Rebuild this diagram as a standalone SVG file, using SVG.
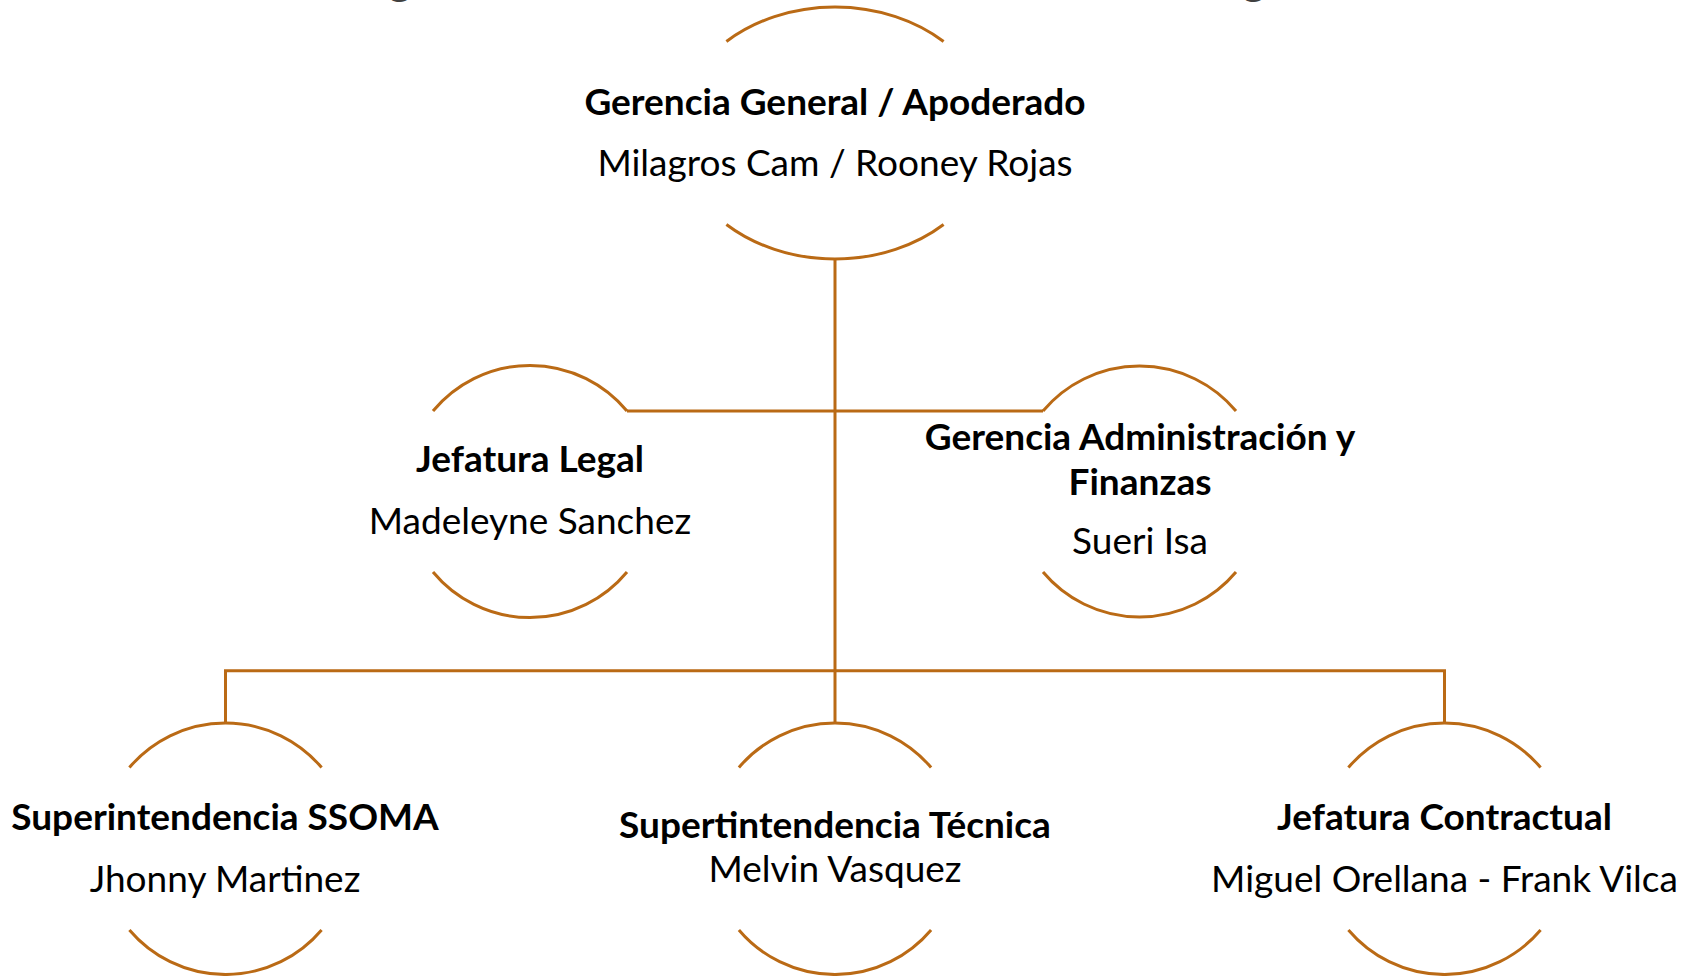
<svg xmlns="http://www.w3.org/2000/svg" width="1694" height="976" viewBox="0 0 1694 976">
<style>
.arc{fill:none;stroke:#BA6A15;stroke-width:3}
.con{fill:none;stroke:#BA6A15;stroke-width:3}
text{font-family:Lato,"Open Sans","Liberation Sans",sans-serif;fill:#000;text-anchor:middle;font-size:37px}
.b{font-weight:bold}
.t{fill:#404040;font-size:46px}
</style>
<rect width="1694" height="976" fill="#fff"/>
<g id="title-fragments">
<text class="t" x="400" y="-6">g</text>
<text class="t" x="1254" y="-6">g</text>
</g>
<g id="connectors">
<path class="con" d="M835 259 V722"/>
<path class="con" d="M627 411 H1043"/>
<path class="con" d="M225.5 722 V670.7 H1444.5 V722"/>
</g>
<g id="node-gerencia-general">
<path class="arc" d="M726.4 41.5 A158 126 0 0 1 943.6 41.5"/>
<path class="arc" d="M726.4 224.5 A158 126 0 0 0 943.6 224.5"/>
<text class="b" x="835" y="115">Gerencia General / Apoderado</text>
<text x="835" y="176">Milagros Cam / Rooney Rojas</text>
</g>
<g id="node-jefatura-legal">
<path class="arc" d="M433 411 A126 126 0 0 1 627 411"/>
<path class="arc" d="M433 572 A126 126 0 0 0 627 572"/>
<text class="b" x="530" y="472">Jefatura Legal</text>
<text x="530" y="534">Madeleyne Sanchez</text>
</g>
<g id="node-gerencia-admin">
<path class="arc" d="M1043 411 A126 126 0 0 1 1236 411"/>
<path class="arc" d="M1043 572 A126 126 0 0 0 1236 572"/>
<text class="b" x="1140" y="450">Gerencia Administración y</text>
<text class="b" x="1140" y="495">Finanzas</text>
<text x="1140" y="554">Sueri Isa</text>
</g>
<g id="node-ssoma">
<path class="arc" d="M129.4 767.5 A126 126 0 0 1 321.6 767.5"/>
<path class="arc" d="M129.4 930 A126 126 0 0 0 321.6 930"/>
<text class="b" x="225" y="830">Superintendencia SSOMA</text>
<text x="225" y="892">Jhonny Martinez</text>
</g>
<g id="node-tecnica">
<path class="arc" d="M738.9 767.5 A126 126 0 0 1 931.1 767.5"/>
<path class="arc" d="M738.9 930 A126 126 0 0 0 931.1 930"/>
<text class="b" x="835" y="838">Supertintendencia Técnica</text>
<text x="835" y="882">Melvin Vasquez</text>
</g>
<g id="node-contractual">
<path class="arc" d="M1348.4 767.5 A126 126 0 0 1 1540.6 767.5"/>
<path class="arc" d="M1348.4 930 A126 126 0 0 0 1540.6 930"/>
<text class="b" x="1444.5" y="830">Jefatura Contractual</text>
<text x="1444.5" y="892">Miguel Orellana - Frank Vilca</text>
</g>
</svg>
